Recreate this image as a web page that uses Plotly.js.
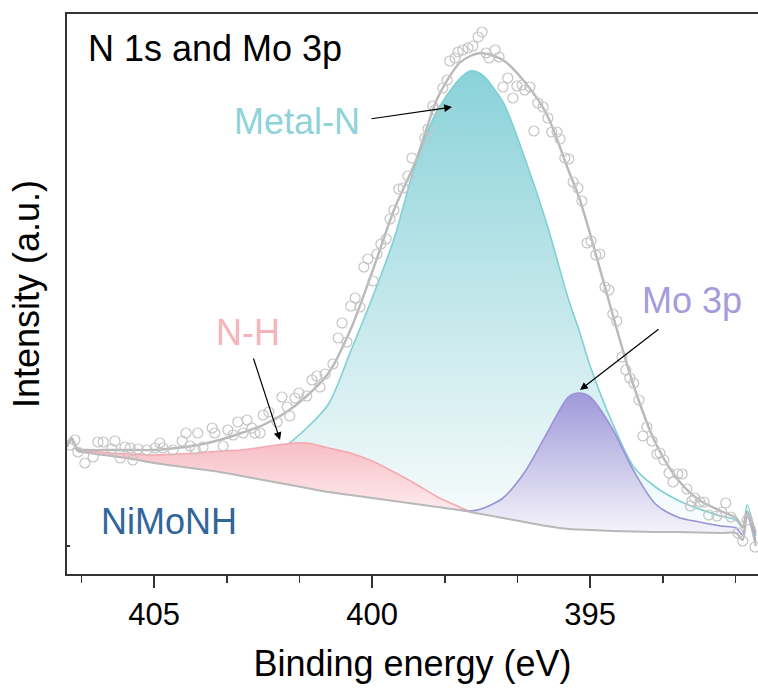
<!DOCTYPE html>
<html>
<head>
<meta charset="utf-8">
<script src="https://cdn.plot.ly/plotly-3.0.1.min.js"></script>
<style>html,body{margin:0;padding:0;background:#fff;}#chart{width:758px;height:693px;}</style>
</head>
<body>
<div id="chart"></div>
<script>
// Binding energy grid (eV) for fitted curves
const energy = [407.0, 406.9, 406.75, 406.5, 406.0, 405.5, 405.0, 404.5, 404.0, 403.5,
  403.0, 402.5, 402.0, 401.5, 401.0, 400.5, 400.0, 399.5, 399.0, 398.5,
  398.0, 397.75, 397.5, 397.0, 396.5, 396.0, 395.5, 395.25, 395.0, 394.5,
  394.0, 393.5, 393.0, 392.5, 392.0, 391.65, 391.5, 391.4, 391.2];
// Shirley background
const background = [99, 106, 95, 93, 90, 87, 83, 80, 77, 74,
  70, 66, 62, 58, 54, 51, 48, 45, 42, 39,
  36, 34, 32, 28, 24, 20, 17, 16.5, 16, 15,
  14.5, 14, 14, 13.5, 13, 13, 6, 30, 0];
// Metal-N component (on background)
const metalN = [99, 106, 95, 94, 91, 89, 85, 83, 82, 82,
  84, 90, 100, 118, 142, 194, 248, 307, 383, 436,
  467, 475, 472, 444, 388, 323, 247, 215, 180, 124,
  79, 59, 46, 37, 30, 26, 18, 41, 10];
// N-H component (on background), energies 407 -> 397
const nH = [99, 106, 96, 95, 93, 92, 91, 92, 93, 95,
  96, 99, 102, 103, 98, 93, 85, 74, 62, 49,
  39, 34.5, 32.5, 28];
// Mo 3p component (on background), energies 398 -> 391.2
const mo3p = [36, 35, 37, 48, 74, 112, 149, 153, 149, 118,
  75, 42, 29, 24, 20, 18, 11, 35, 4];
// Total fitted envelope
const envelope = [101, 108, 97, 96, 96, 96, 96, 98, 101, 106,
  113, 121, 133, 150, 173, 216, 274, 336, 385, 448,
  483, 490, 493, 486, 464, 432, 376, 348, 312, 234,
  160, 103, 67, 46, 35, 28, 19, 34, 13];
// Measured data points
const dataE = [406.93, 406.82, 406.75, 406.59, 406.40, 406.29, 406.17, 405.97, 405.90, 405.78,
  405.67, 405.55, 405.49, 405.37, 405.17, 404.98, 404.87, 404.80, 404.57, 404.36,
  404.27, 404.18, 404.06, 404.00, 403.88, 403.67, 403.61, 403.42, 403.31, 403.19,
  403.08, 402.96, 402.87, 402.76, 402.69, 402.57, 402.50, 402.37, 402.18, 402.07,
  401.95, 401.89, 401.77, 401.68, 401.50, 401.38, 401.27, 401.20, 401.08, 400.90,
  400.78, 400.69, 400.58, 400.49, 400.39, 400.28, 400.19, 400.10, 399.98, 399.89,
  399.80, 399.68, 399.59, 399.50, 399.39, 399.29, 399.18, 399.09, 398.79, 398.72,
  398.61, 398.56, 398.38, 398.28, 398.22, 398.10, 398.03, 397.92, 397.80, 397.69,
  397.57, 397.48, 397.39, 397.32, 397.18, 397.09, 397.00, 396.89, 396.77, 396.68,
  396.56, 396.50, 396.38, 396.29, 396.20, 396.08, 395.97, 395.88, 395.76, 395.69,
  395.58, 395.49, 395.39, 395.28, 395.19, 395.07, 394.98, 394.87, 394.78, 394.66,
  394.57, 394.48, 394.39, 394.27, 394.18, 394.09, 394.00, 393.88, 393.79, 393.70,
  393.58, 393.47, 393.40, 393.31, 393.19, 393.10, 392.99, 392.89, 392.78, 392.67,
  392.70, 392.60, 392.48, 392.39, 392.28, 392.09, 391.98, 391.89, 391.77, 391.61,
  391.50, 391.40, 391.22];
const dataI = [101, 106, 94, 83, 89, 104, 104, 97, 105, 88,
  99, 98, 86, 97, 96, 98, 103, 98, 96, 105,
  113, 100, 97, 113, 99, 118, 113, 100, 116, 111,
  124, 113, 126, 118, 113, 113, 131, 134, 124, 149,
  139, 130, 148, 153, 150, 166, 170, 159, 172, 182,
  208, 223, 204, 240, 248, 239, 279, 287, 265, 292,
  302, 307, 327, 336, 357, 358, 370, 388, 408, 417,
  440, 436, 458, 466, 485, 488, 494, 496, 498, 500,
  509, 514, 493, 488, 496, 489, 459, 468, 448, 460,
  461, 456, 459, 415, 443, 439, 428, 414, 414, 407,
  388, 387, 364, 358, 345, 303, 305, 291, 292, 259,
  256, 232, 225, 189, 176, 168, 163, 146, 110, 119,
  105, 92, 93, 86, 73, 64, 72, 72, 57, 45,
  40, 48, 44, 44, 31, 30, 34, 43, 29, 13,
  5, 26, -1];
// Axis ticks
const majorTicks = [405, 400, 395];
const majorLabels = ['405', '400', '395'];
const minorTicks = [406.667, 403.333, 401.667, 398.333, 396.667, 393.333, 391.667];

const nHE = energy.slice(0, nH.length);
const nHBg = background.slice(0, nH.length);
const moStart = energy.indexOf(398.0);
const moE = energy.slice(moStart);
const moBg = background.slice(moStart);

const FONT = 'Liberation Sans, Arial, sans-serif';
const spl = {shape: 'spline', smoothing: 0.8};

const traces = [
  // Metal-N fill
  {x: energy, y: background, mode: 'lines', line: {width: 0, ...spl}, hoverinfo: 'skip', showlegend: false},
  {x: energy, y: metalN, mode: 'lines', fill: 'tonexty', line: {color: '#7fd0d6', width: 1.6, ...spl},
    fillgradient: {type: 'vertical', colorscale: [[0, 'rgba(255,255,255,1)'], [0.15, 'rgb(236,247,248)'], [1, 'rgb(138,210,217)']]},
    name: 'Metal-N', showlegend: false},
  // N-H fill
  {x: nHE, y: nHBg, mode: 'lines', line: {width: 0, ...spl}, hoverinfo: 'skip', showlegend: false},
  {x: nHE, y: nH, mode: 'lines', fill: 'tonexty', line: {color: '#f6a9b1', width: 1.6, ...spl},
    fillgradient: {type: 'vertical', colorscale: [[0, 'rgb(253,240,242)'], [1, 'rgb(248,188,196)']]},
    name: 'N-H', showlegend: false},
  // Mo 3p fill
  {x: moE, y: moBg, mode: 'lines', line: {width: 0, ...spl}, hoverinfo: 'skip', showlegend: false},
  {x: moE, y: mo3p, mode: 'lines', fill: 'tonexty', line: {color: '#9a92d6', width: 1.6, ...spl},
    fillgradient: {type: 'vertical', colorscale: [[0, 'rgb(252,252,254)'], [1, 'rgb(160,152,217)']]},
    name: 'Mo 3p', showlegend: false},
  // background line
  {x: energy, y: background, mode: 'lines', line: {color: '#b8b8b8', width: 2, ...spl}, name: 'Background', showlegend: false},
  // envelope
  {x: energy, y: envelope, mode: 'lines', line: {color: '#b9b9b9', width: 2.4, ...spl}, name: 'Fit', showlegend: false},
  // raw data
  {x: dataE, y: dataI, mode: 'markers', marker: {symbol: 'circle-open', size: 10, color: '#c4c4c4', line: {width: 1.2, color: '#c4c4c4'}},
    name: 'Data', showlegend: false}
];

function px2paperX(px) { return (px - 67) / 691; }
function px2paperY(py) { return (574 - py) / 560; }

const layout = {
  width: 758, height: 693,
  margin: {l: 67, r: 0, t: 14, b: 119},
  paper_bgcolor: '#fff', plot_bgcolor: '#fff',
  showlegend: false,
  font: {family: FONT, color: '#000'},
  xaxis: {
    range: [407.0, 391.15], autorange: false,
    tickmode: 'array', tickvals: majorTicks, ticktext: majorLabels,
    ticks: 'outside', ticklen: 12, tickwidth: 1.5, tickcolor: '#333',
    minor: {tickmode: 'array', tickvals: minorTicks, ticks: 'outside', ticklen: 7, tickwidth: 1.5, tickcolor: '#333', showgrid: false},
    showline: true, linecolor: '#333', linewidth: 1.8, mirror: true,
    showgrid: false, zeroline: false,
    tickfont: {size: 31, family: FONT, color: '#000'},
    title: {text: 'Binding energy (eV)', font: {size: 36, family: FONT, color: '#000'}, standoff: 20}
  },
  yaxis: {
    range: [-28, 532], autorange: false,
    tickmode: 'array', tickvals: [0], ticktext: [''],
    ticks: 'inside', ticklen: 3, tickwidth: 1.5, tickcolor: '#333',
    showline: true, linecolor: '#333', linewidth: 1.8,
    showgrid: false, zeroline: false,
    title: {text: 'Intensity (a.u.)', font: {size: 36, family: FONT, color: '#000'}, standoff: 12}
  },
  annotations: [
    {xref: 'paper', yref: 'paper', x: px2paperX(86), y: px2paperY(48), xanchor: 'left', yanchor: 'middle',
      text: 'N 1s and Mo 3p', showarrow: false, font: {size: 36, color: '#000'}},
    {xref: 'paper', yref: 'paper', x: px2paperX(297), y: px2paperY(122), xanchor: 'center', yanchor: 'middle',
      text: 'Metal-N', showarrow: false, font: {size: 36, color: '#8fd3d9'}},
    {xref: 'paper', yref: 'paper', x: px2paperX(248), y: px2paperY(332), xanchor: 'center', yanchor: 'middle',
      text: 'N-H', showarrow: false, font: {size: 36, color: '#f7b3ba'}},
    {xref: 'paper', yref: 'paper', x: px2paperX(692), y: px2paperY(300), xanchor: 'center', yanchor: 'middle',
      text: 'Mo 3p', showarrow: false, font: {size: 36, color: '#a49cdb'}},
    {xref: 'paper', yref: 'paper', x: px2paperX(99), y: px2paperY(521), xanchor: 'left', yanchor: 'middle',
      text: 'NiMoNH', showarrow: false, font: {size: 36, color: '#306699'}},
    // arrows
    {xref: 'paper', yref: 'paper', x: px2paperX(452), y: px2paperY(107), ax: -82, ay: 12, text: '',
      showarrow: true, arrowhead: 2, arrowsize: 1.3, arrowwidth: 1.2, arrowcolor: '#000'},
    {xref: 'paper', yref: 'paper', x: px2paperX(280), y: px2paperY(440), ax: -27, ay: -83, text: '',
      showarrow: true, arrowhead: 2, arrowsize: 1.3, arrowwidth: 1.2, arrowcolor: '#000'},
    {xref: 'paper', yref: 'paper', x: px2paperX(580), y: px2paperY(390), ax: 80, ay: -62, text: '',
      showarrow: true, arrowhead: 2, arrowsize: 1.3, arrowwidth: 1.2, arrowcolor: '#000'}
  ]
};

Plotly.newPlot('chart', traces, layout, {staticPlot: true, displayModeBar: false});
</script>
</body>
</html>
